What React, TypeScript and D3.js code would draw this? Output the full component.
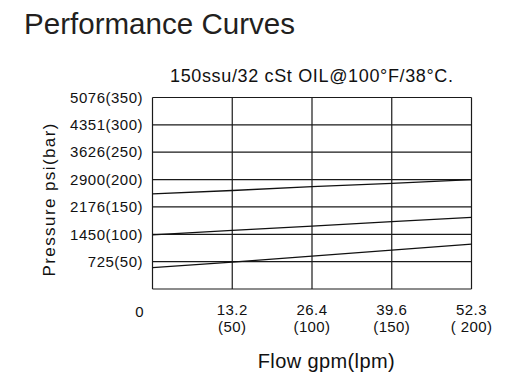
import React from 'react'
import * as d3 from 'd3'

// flow in lpm, pressure in bar
const flowLpm = [0, 50, 100, 150, 200]
const upperCurve = [174, 180, 187, 193, 200]
const middleCurve = [99, 107, 115, 123, 131]
const lowerCurve = [39, 49, 60, 71, 82]

const yTicksBar = [50, 100, 150, 200, 250, 300, 350]
const yTickLabels = ['725(50)', '1450(100)', '2176(150)', '2900(200)', '3626(250)', '4351(300)', '5076(350)']
const xTickGpm = ['0', '13.2', '26.4', '39.6', '52.3']
const xTickLpm = ['', '(50)', '(100)', '(150)', '( 200)']

const W = 511
const H = 390
const font = "'Liberation Sans', Arial, Helvetica, sans-serif"

export default function App() {
  const x = d3.scaleLinear().domain([0, 200]).range([152.5, 471.5])
  const y = d3.scaleLinear().domain([0, 350]).range([289, 97.5])

  const line = d3
    .line<number>()
    .x((_, i) => x(flowLpm[i]))
    .y((d) => y(d))

  const curves = [upperCurve, middleCurve, lowerCurve]
  const gridY = [0, ...yTicksBar]

  return (
    <svg
      width={W}
      height={H}
      style={{ position: 'absolute', left: 0, top: 0, background: '#fff' }}
      fontFamily={font}
    >
      <text x={24} y={33.7} fontSize={29} fill="#231f20" textLength={271} lengthAdjust="spacingAndGlyphs">
        Performance Curves
      </text>
      <text x={170} y={82} fontSize={18} fill="#111" textLength={283} lengthAdjust="spacing">
        150ssu/32 cSt OIL@100°F/38°C.
      </text>

      {/* grid */}
      <g stroke="#1a1a1a" strokeWidth={1.2} fill="none">
        {flowLpm.map((f) => (
          <line key={'v' + f} x1={x(f)} x2={x(f)} y1={y(0)} y2={y(350)} />
        ))}
        {gridY.map((p) => (
          <line key={'h' + p} x1={x(0)} x2={x(200)} y1={y(p)} y2={y(p)} />
        ))}
      </g>

      {/* curves */}
      <g stroke="#111" strokeWidth={1.3} fill="none">
        {curves.map((c, i) => (
          <path key={i} d={line(c) || ''} />
        ))}
      </g>

      {/* y ticks */}
      <g fontSize={15} fill="#111" textAnchor="end" letterSpacing={0.5}>
        {yTicksBar.map((p, i) => (
          <text key={p} x={143} y={y(p)} dy="0.35em">
            {yTickLabels[i]}
          </text>
        ))}
      </g>

      {/* x ticks */}
      <g fontSize={15} fill="#111" textAnchor="middle" letterSpacing={0.4}>
        {flowLpm.map((f, i) =>
          i === 0 ? (
            <text key={f} x={x(f) - 13} y={316.7}>
              {xTickGpm[i]}
            </text>
          ) : (
            <g key={f}>
              <text x={x(f)} y={315}>
                {xTickGpm[i]}
              </text>
              <text x={x(f)} y={331.7}>
                {xTickLpm[i]}
              </text>
            </g>
          ),
        )}
      </g>

      <text x={257.7} y={368} fontSize={20} fill="#111" textLength={137} lengthAdjust="spacing">
        Flow gpm(lpm)
      </text>
      <text
        transform="translate(55,200) rotate(-90)"
        fontSize={17}
        fill="#111"
        textAnchor="middle"
        textLength={153}
        lengthAdjust="spacing"
      >
        Pressure psi(bar)
      </text>
    </svg>
  )
}
